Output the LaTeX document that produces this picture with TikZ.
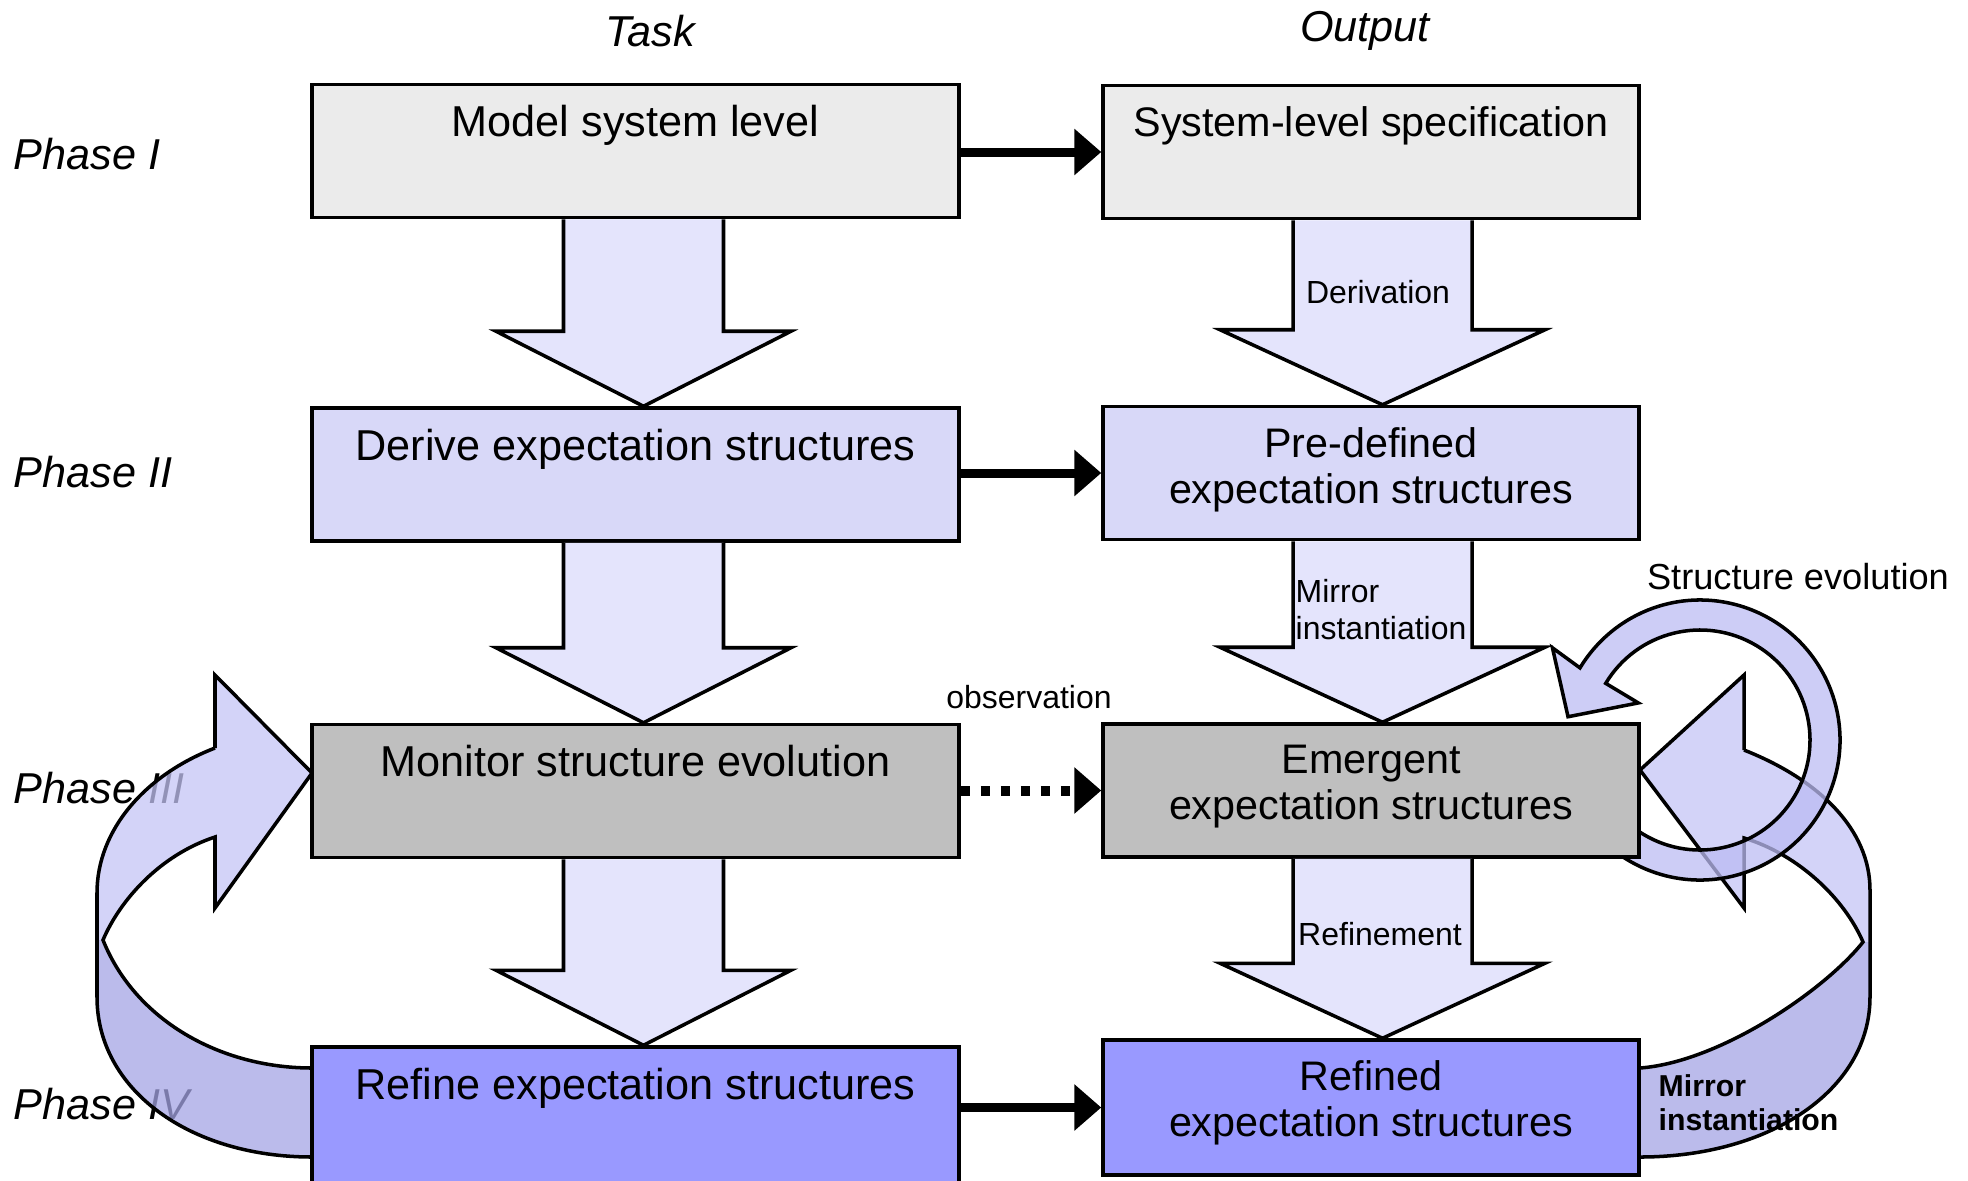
\documentclass[tikz,border=0pt]{standalone}
\usepackage{fontspec}
\setmainfont{Liberation Sans}
\usetikzlibrary{arrows.meta,positioning}

\definecolor{lightgrey}{HTML}{EBEBEB}
\definecolor{lilac}{HTML}{D8D8F8}
\definecolor{midgrey}{HTML}{BFBFBF}
\definecolor{violet}{HTML}{9999FF}
\definecolor{arrowfill}{HTML}{E4E4FC}
\definecolor{riblight}{HTML}{C4C4F5}
\definecolor{ribdark}{HTML}{A4A4E4}
\definecolor{ringfill}{HTML}{BCBCF3}

% fat block arrow between two boxes: from, to, axis, shaft half width, head half width
\newcommand{\fatdown}[5]{%
  \draw[fat] ([xshift=-#4]#1.south -| #3) -- ([xshift=-#4,yshift=0.75cm]#2.north -| #3)
    -- ([xshift=-#5,yshift=0.75cm]#2.north -| #3) -- (#2.north -| #3)
    -- ([xshift=#5,yshift=0.75cm]#2.north -| #3) -- ([xshift=#4,yshift=0.75cm]#2.north -| #3)
    -- ([xshift=#4]#1.south -| #3);
}

\begin{document}
\begin{tikzpicture}[
  font=\fontsize{12.3}{13.1}\selectfont,
  taskbox/.style={draw, line width=1pt, minimum width=6.47cm, minimum height=1.33cm, inner sep=0pt},
  outbox/.style={draw, line width=1pt, minimum width=5.36cm, minimum height=1.33cm, inner sep=0pt},
  boxtext/.style={inner sep=0pt, align=center},
  outtext/.style={inner sep=0pt, align=center, font=\fontsize{11.75}{13.1}\selectfont},
  head/.style={inner sep=0pt, font=\fontsize{12.3}{14}\selectfont\itshape},
  phase/.style={inner sep=0pt, anchor=west, font=\fontsize{12.3}{14}\selectfont\itshape},
  small/.style={inner sep=0pt, font=\fontsize{9.1}{10.5}\selectfont},
  fat/.style={draw, line width=1pt, fill=arrowfill, line join=miter},
  ribline/.style={draw, line width=1pt, line join=miter},
  ring/.style={draw, line width=1pt, fill=ringfill, fill opacity=0.75},
  flow/.style={line width=0.09cm, -{Triangle[length=0.27cm,width=0.45cm]}},
]
\useasboundingbox (0,0) rectangle (19.68,-11.80);

% column headers and phases
\node[head] (taskhead) at (6.50,-0.31) {Task};
\node[head] (outhead) at (13.65,-0.31) {Output};
\node[phase] (ph1) at (0.13,-1.54) {Phase I};
\node[phase] (ph2) at (0.13,-4.72) {Phase II};
\node[phase] (ph3) at (0.13,-7.88) {Phase III};
\node[phase] (ph4) at (0.13,-11.04) {Phase IV};

\coordinate (taskaxis) at (6.435,0);
\coordinate (outaxis) at (13.825,0);

% left loop: refine -> monitor
\fill[riblight, fill opacity=0.75] (2.15,-7.48) -- (2.15,-6.75) -- (3.12,-7.73) -- (2.15,-9.08) -- (2.15,-8.37)
  .. controls (1.60,-8.55) and (1.20,-9.00) .. (1.03,-9.40) -- (0.97,-9.40) -- (0.97,-8.93)
  .. controls (0.97,-8.30) and (1.45,-7.75) .. (2.15,-7.48) -- cycle;
\fill[ribdark, fill opacity=0.75] (1.03,-9.40) .. controls (1.35,-10.20) and (2.20,-10.68) .. (3.12,-10.68)
  -- (3.12,-11.57) .. controls (1.90,-11.57) and (0.97,-10.90) .. (0.97,-9.97) -- (0.97,-9.40) -- cycle;
\draw[ribline] (2.15,-7.48) .. controls (1.45,-7.75) and (0.97,-8.30) .. (0.97,-8.93) -- (0.97,-9.97)
  .. controls (0.97,-10.90) and (1.90,-11.57) .. (3.12,-11.57);
\draw[ribline] (2.15,-7.48) -- (2.15,-6.75) -- (3.12,-7.73) -- (2.15,-9.08) -- (2.15,-8.37)
  .. controls (1.60,-8.55) and (1.20,-9.00) .. (1.03,-9.40)
  .. controls (1.35,-10.20) and (2.20,-10.68) .. (3.12,-10.68);

% right loop: refined -> emergent
\fill[riblight, fill opacity=0.75] (17.44,-7.50) -- (17.44,-6.75) -- (16.40,-7.70) -- (17.44,-9.08) -- (17.44,-8.38)
  .. controls (18.00,-8.55) and (18.45,-9.00) .. (18.63,-9.42) -- (18.70,-9.42) -- (18.70,-8.90)
  .. controls (18.70,-8.30) and (18.20,-7.80) .. (17.44,-7.50) -- cycle;
\fill[ribdark, fill opacity=0.75] (18.63,-9.42) .. controls (18.25,-9.90) and (17.20,-10.62) .. (16.40,-10.68)
  -- (16.40,-11.57) .. controls (17.70,-11.57) and (18.70,-10.90) .. (18.70,-9.97) -- (18.70,-9.42) -- cycle;
\draw[ribline] (17.44,-7.50) .. controls (18.20,-7.80) and (18.70,-8.30) .. (18.70,-8.90) -- (18.70,-9.97)
  .. controls (18.70,-10.90) and (17.70,-11.57) .. (16.40,-11.57);
\draw[ribline] (17.44,-7.50) -- (17.44,-6.75) -- (16.40,-7.70) -- (17.44,-9.08) -- (17.44,-8.38)
  .. controls (18.00,-8.55) and (18.45,-9.00) .. (18.63,-9.42)
  .. controls (18.25,-9.90) and (17.20,-10.62) .. (16.40,-10.68);

% structure evolution loop
\coordinate (ringc) at (17.00,-7.40);
\draw[ring] ([shift={(ringc)}]200:1.40) arc[start angle=200, end angle=509, radius=1.40]
  -- ([shift={(ringc)}]148:1.74) -- ([shift={(ringc)}]170:1.34) -- ([shift={(ringc)}]149:0.72)
  -- ([shift={(ringc)}]149:1.10) arc[start angle=509, end angle=200, radius=1.10] -- cycle;

% boxes
\node[taskbox, fill=lightgrey] (model) at (6.355,-1.51) {};
\node[taskbox, fill=lilac] (derive) at (6.355,-4.745) {};
\node[taskbox, fill=midgrey] (monitor) at (6.355,-7.91) {};
\node[taskbox, fill=violet, minimum height=1.50cm] (refine) at (6.355,-11.22) {};

\node[outbox, fill=lightgrey] (spec) at (13.71,-1.52) {};
\node[outbox, fill=lilac] (predef) at (13.71,-4.73) {};
\node[outbox, fill=midgrey] (emerg) at (13.71,-7.905) {};
\node[outbox, fill=violet, minimum height=1.35cm] (refined) at (13.71,-11.075) {};

% fat arrows
\fatdown{model}{derive}{taskaxis}{0.80cm}{1.475cm}
\fatdown{derive}{monitor}{taskaxis}{0.80cm}{1.475cm}
\fatdown{monitor}{refine}{taskaxis}{0.80cm}{1.475cm}
\fatdown{spec}{predef}{outaxis}{0.895cm}{1.625cm}
\fatdown{predef}{emerg}{outaxis}{0.895cm}{1.625cm}
\fatdown{emerg}{refined}{outaxis}{0.895cm}{1.625cm}

% box texts
\node[boxtext, below=0.22cm of model.north] (modeltxt) {Model system level};
\node[boxtext, below=0.22cm of derive.north] (derivetxt) {Derive expectation structures};
\node[boxtext, below=0.22cm of monitor.north] (monitortxt) {Monitor structure evolution};
\node[boxtext, below=0.22cm of refine.north] (refinetxt) {Refine expectation structures};
\node[outtext, below=0.22cm of spec.north] (spectxt) {System-level specification};
\node[outtext, below=0.22cm of predef.north] (predeftxt) {Pre-defined\\expectation structures};
\node[outtext, below=0.22cm of emerg.north] (emergtxt) {Emergent\\expectation structures};
\node[outtext, below=0.22cm of refined.north] (refinedtxt) {Refined\\expectation structures};

% task -> output
\draw[flow] (model.east |- spec.west) -- (spec.west);
\draw[flow] (derive.east |- predef.west) -- (predef.west);
\draw[flow, line width=0.1cm, dash pattern=on 0.09cm off 0.11cm] (monitor.east |- emerg.west) -- (emerg.west);
\draw[flow] (refine.east |- refined.west) -- (refined.west);

% labels
\node[small] (derivation) at (13.78,-2.92) {Derivation};
\node[small, anchor=west, align=left] (mirror) at (12.95,-6.095) {Mirror\\instantiation};
\node[small] (refinement) at (13.80,-9.34) {Refinement};
\node[small] (observation) at (10.29,-6.97) {observation};
\node[inner sep=0pt, font=\fontsize{10.3}{12}\selectfont] (evolution) at (17.98,-5.77) {Structure evolution};
\node[inner sep=0pt, anchor=west, align=left, font=\fontsize{8.6}{9.6}\selectfont\bfseries] (mirrorback) at (16.58,-11.025) {Mirror\\instantiation};
\end{tikzpicture}
\end{document}
